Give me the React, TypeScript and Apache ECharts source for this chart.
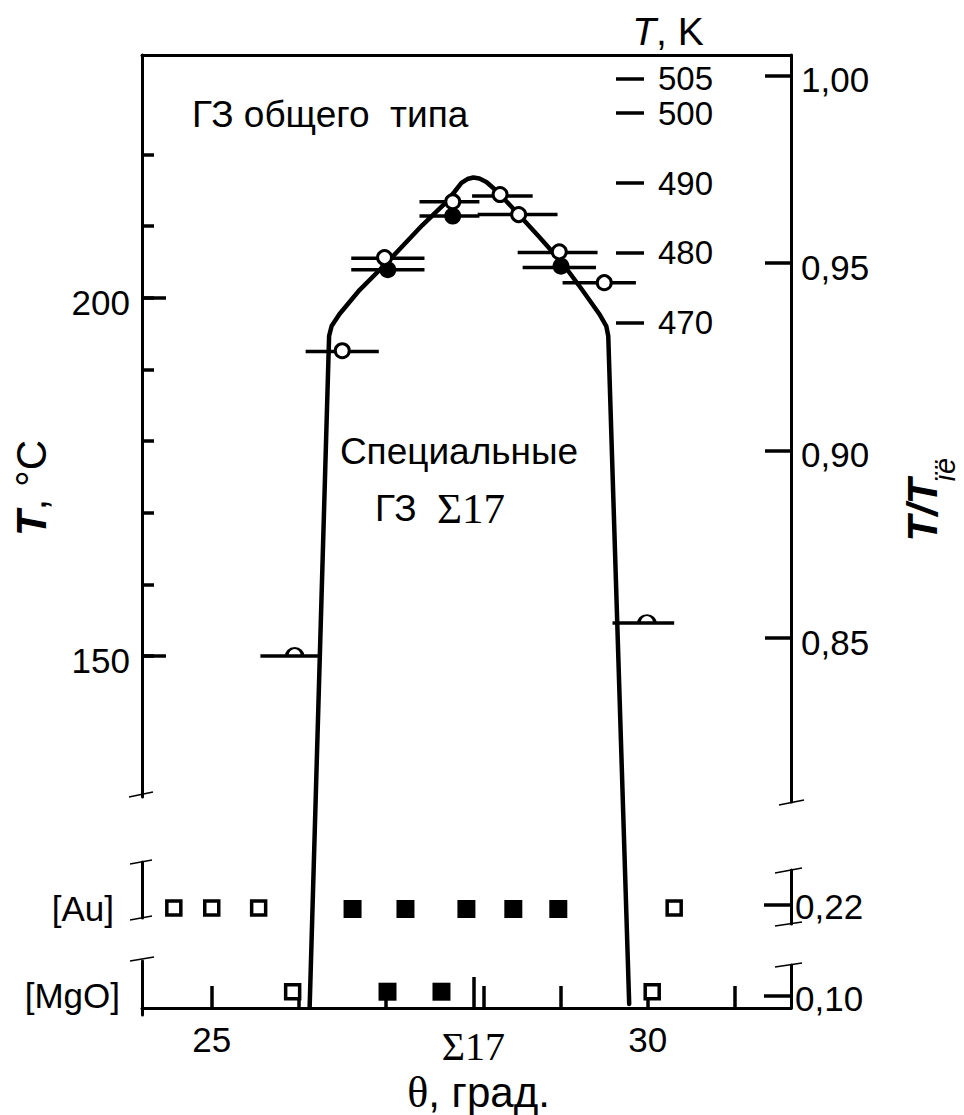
import React, { useEffect, useRef } from "react";
import * as echarts from "echarts";

const SANS = '"Liberation Sans", Arial, Helvetica, sans-serif';
const SERIF = '"Liberation Serif", "Times New Roman", serif';

// ---------- axis extents and tick values ----------
const thetaExtent = [24.2, 31.644];
const thetaTicks = [25, 26, 27, 28.12, 29, 30, 31];
const thetaLabels = [25, 30];
const sigma17Theta = [28];
const celsiusUpperExtent = [130.32, 233.87];
const celsiusFullExtent = [99.9, 233.87];
const celsiusTicks = [150, 160, 170, 180, 190, 200, 210, 220];
const celsiusLabels = [150, 200];
const ratioExtent = [0.80634, 1.00549];
const ratioTicks = [0.85, 0.9, 0.95, 1.0];
const kelvinExtent = [401.36, 508.34];
const kelvinTicks = [470, 480, 490, 500, 505];
const auExtentRight = [0.1848, 0.2848];
const auExtentLeft = [0.1959, 0.2996];
const mgoExtentRight = [0.0714, 0.1714];
const mgoExtentLeft = [0.0714, 0.1794];
const auRatio = [0.22];
const mgoRatio = [0.1];

// ---------- data: [theta, T °C] ----------
const boundaryCurve = [
  [26.123, 101.0], [26.346, 194.66], [26.375, 196.05], [26.466, 197.73],
  [26.695, 201.07], [27.005, 204.84], [27.417, 210.14], [27.669, 213.08],
  [27.783, 214.75], [27.864, 216.01], [27.933, 216.56], [28.001, 216.77],
  [28.07, 216.63], [28.15, 216.15], [28.242, 215.17], [28.333, 214.05],
  [28.494, 211.96], [28.757, 208.47], [29.021, 204.84], [29.25, 201.07],
  [29.445, 197.73], [29.525, 196.05], [29.548, 194.66], [29.788, 101.44],
];
const openPoints = [
  [26.982, 205.6], [27.764, 213.4], [28.307, 214.4], [28.52, 211.6],
  [28.986, 206.4], [29.502, 202.1], [26.497, 192.6],
];
const filledPoints = [
  [27.019, 203.9], [27.764, 211.4], [29.006, 204.4],
];
const halfPoints = [
  [25.951, 150.0], [29.991, 154.6],
];
// [theta low, theta high, T °C]
const errorBars = [
  [26.6, 27.44, 205.5], [26.6, 27.44, 203.9], [27.383, 28.07, 213.4],
  [27.383, 28.07, 211.4], [27.986, 28.681, 214.2], [28.05, 28.966, 211.6],
  [28.509, 29.425, 206.3], [28.566, 29.407, 204.2], [29.024, 29.865, 202.1],
  [26.077, 26.916, 192.5], [25.558, 26.218, 150.0], [29.597, 30.304, 154.6],
];
const auOpen = [24.565, 25.0, 25.538, 30.304];
const auFilled = [26.615, 27.222, 27.921, 28.459, 28.975];
const mgoOpen = [25.928, 30.052];
const mgoFilled = [27.016, 27.635];

const comma = (v: number) => v.toFixed(2).replace(".", ",");

const L = 142;
const W = 649;
const lineW = 3;

const hiddenX = (gridIndex: number) => ({
  type: "value", gridIndex, min: thetaExtent[0], max: thetaExtent[1], show: false,
  splitLine: { show: false },
});

// axis label that is shifted vertically by dy pixels (positive = down)
const shiftedLabel = (fmt: (v: number) => string, dy: number, size = 35) => ({
  formatter: (v: number) => `{s|${fmt(v)}}`,
  rich: {
    s: {
      fontFamily: SANS, fontSize: size, color: "#000", lineHeight: 22,
      padding: dy >= 0 ? [2 * dy, 0, 0, 0] : [0, 0, -2 * dy, 0],
    },
  },
});

function buildOption(): any {
  const tickStyle = { color: "#000", width: 3.5 };
  const axLine = { show: true, onZero: false, lineStyle: { color: "#000", width: lineW } };
  const labelFont = { color: "#000", fontFamily: SANS, fontSize: 35 };

  const slash = (x1: number, y1: number, x2: number, y2: number) => ({
    type: "line", shape: { x1, y1, x2, y2 }, style: { stroke: "#000", lineWidth: 1.6 }, z: 10,
  });

  return {
    animation: false,
    backgroundColor: "#fff",
    grid: [
      { left: L, top: 55, width: W, height: 742 },
      { left: L, top: 55, width: W, height: 747 },
      { left: L, top: 55, width: W, height: 960 },
      { left: L, top: 862, width: W, height: 56 },
      { left: L, top: 870, width: W, height: 54 },
      { left: L, top: 961, width: W, height: 54 },
      { left: L, top: 965, width: W, height: 50 },
    ],
    xAxis: [
      {
        type: "value", gridIndex: 0, position: "top", min: thetaExtent[0], max: thetaExtent[1],
        axisLine: axLine, axisTick: { show: false }, axisLabel: { show: false }, splitLine: { show: false },
      },
      hiddenX(1),
      hiddenX(2),
      hiddenX(3),
      hiddenX(4),
      hiddenX(5),
      {
        type: "value", gridIndex: 6, position: "bottom", offset: 0,
        min: thetaExtent[0], max: thetaExtent[1],
        axisLine: axLine,
        axisTick: { show: true, inside: true, length: 22, customValues: thetaTicks, lineStyle: tickStyle },
        axisLabel: { show: true, customValues: thetaLabels, margin: 14, ...labelFont, formatter: (v: number) => String(Math.round(v)) },
        splitLine: { show: false },
        name: "{t|θ}, град.",
        nameLocation: "middle",
        nameGap: 62,
        nameTextStyle: {
          color: "#000", fontFamily: SANS, fontSize: 42, padding: [0, 0, 0, 24],
          rich: { t: { fontFamily: SERIF, fontSize: 44, color: "#000" } },
        },
      },
      {
        type: "value", gridIndex: 6, position: "bottom", offset: 0,
        min: thetaExtent[0], max: thetaExtent[1],
        axisLine: { show: false },
        axisTick: { show: true, inside: true, length: 31, customValues: sigma17Theta, lineStyle: tickStyle },
        axisLabel: {
          show: true, customValues: sigma17Theta, margin: 18, color: "#000",
          fontFamily: SERIF, fontSize: 40, formatter: () => "Σ17",
        },
        splitLine: { show: false },
      },
    ],
    yAxis: [
      {
        type: "value", gridIndex: 0, position: "left", min: celsiusUpperExtent[0], max: celsiusUpperExtent[1],
        axisLine: axLine,
        axisTick: { show: true, inside: true, length: 12, customValues: celsiusTicks, lineStyle: tickStyle },
        axisLabel: { show: true, customValues: celsiusLabels, margin: 12, ...labelFont, ...shiftedLabel((v) => String(v), 5) },
        splitLine: { show: false },
      },
      {
        type: "value", gridIndex: 0, position: "left", offset: 0, min: celsiusUpperExtent[0], max: celsiusUpperExtent[1],
        axisLine: { show: false },
        axisTick: { show: true, inside: true, length: 24, customValues: celsiusLabels, lineStyle: tickStyle },
        axisLabel: { show: false },
        splitLine: { show: false },
      },
      {
        type: "value", gridIndex: 1, position: "right", min: ratioExtent[0], max: ratioExtent[1],
        axisLine: axLine,
        axisTick: { show: true, inside: true, length: 26, customValues: ratioTicks, lineStyle: tickStyle },
        axisLabel: { show: true, customValues: ratioTicks, margin: 10, ...labelFont, ...shiftedLabel(comma, 4) },
        splitLine: { show: false },
      },
      {
        type: "value", gridIndex: 1, position: "right", offset: -147, min: kelvinExtent[0], max: kelvinExtent[1],
        axisLine: { show: false },
        axisTick: { show: true, inside: true, length: 28, customValues: kelvinTicks, lineStyle: tickStyle },
        axisLabel: { show: true, customValues: kelvinTicks, margin: 14, ...labelFont, fontSize: 33 },
        splitLine: { show: false },
      },
      {
        type: "value", gridIndex: 2, min: celsiusFullExtent[0], max: celsiusFullExtent[1], show: false,
        splitLine: { show: false },
      },
      {
        type: "value", gridIndex: 3, position: "left", min: auExtentLeft[0], max: auExtentLeft[1],
        axisLine: axLine, axisTick: { show: false },
        axisLabel: { show: true, customValues: auRatio, margin: 28, ...labelFont, ...shiftedLabel(() => "[Au]", 4) },
        splitLine: { show: false },
      },
      {
        type: "value", gridIndex: 4, position: "right", min: auExtentRight[0], max: auExtentRight[1],
        axisLine: axLine,
        axisTick: { show: true, inside: true, length: 27, customValues: auRatio, lineStyle: tickStyle },
        axisLabel: { show: true, customValues: auRatio, margin: 4, ...labelFont, ...shiftedLabel(comma, 2) },
        splitLine: { show: false },
      },
      {
        type: "value", gridIndex: 5, position: "left", min: mgoExtentLeft[0], max: mgoExtentLeft[1],
        axisLine: axLine, axisTick: { show: false },
        axisLabel: { show: true, customValues: mgoRatio, margin: 22, ...labelFont, ...shiftedLabel(() => "[MgO]", -5) },
        splitLine: { show: false },
      },
      {
        type: "value", gridIndex: 6, position: "right", min: mgoExtentRight[0], max: mgoExtentRight[1],
        axisLine: axLine,
        axisTick: { show: true, inside: true, length: 27, customValues: mgoRatio, lineStyle: tickStyle },
        axisLabel: { show: true, customValues: mgoRatio, margin: 4, ...labelFont, ...shiftedLabel(comma, 3) },
        splitLine: { show: false },
      },
    ],
    series: [
      {
        type: "line", name: "boundary", xAxisIndex: 2, yAxisIndex: 4, data: boundaryCurve,
        symbol: "none", smooth: false, z: 2,
        lineStyle: { color: "#000", width: 4.5, cap: "round", join: "round" },
      },
      {
        type: "custom", name: "errors", xAxisIndex: 2, yAxisIndex: 4, data: errorBars, z: 3,
        encode: { x: [0, 1], y: 2 },
        renderItem: (_p: any, api: any) => {
          const a = api.coord([api.value(0), api.value(2)]);
          const b = api.coord([api.value(1), api.value(2)]);
          return {
            type: "line",
            shape: { x1: a[0], y1: a[1], x2: b[0], y2: b[1] },
            style: { stroke: "#000", lineWidth: 3.5 },
          };
        },
      },
      {
        type: "scatter", name: "filled", xAxisIndex: 2, yAxisIndex: 4, data: filledPoints, z: 4,
        symbol: "circle", symbolSize: 17, itemStyle: { color: "#000", opacity: 1 },
      },
      {
        type: "scatter", name: "open", xAxisIndex: 2, yAxisIndex: 4, data: openPoints, z: 5,
        symbol: "circle", symbolSize: 14, itemStyle: { color: "#fff", borderColor: "#000", borderWidth: 3, opacity: 1 },
      },
      {
        type: "scatter", name: "half", xAxisIndex: 2, yAxisIndex: 4, data: halfPoints, z: 5,
        symbol: "path://M0 10 A10 10 0 0 1 20 10", symbolSize: [16, 8], symbolOffset: [0, -4],
        itemStyle: { color: "rgba(0,0,0,0)", borderColor: "#000", borderWidth: 2.5, opacity: 1 },
      },
      {
        type: "scatter", name: "auOpen", xAxisIndex: 4, yAxisIndex: 6, z: 4,
        data: auOpen.map((t) => [t, auRatio[0]]),
        symbol: "rect", symbolSize: 14, symbolOffset: [0, 3],
        itemStyle: { color: "#fff", borderColor: "#000", borderWidth: 3.5, opacity: 1 },
      },
      {
        type: "scatter", name: "auFilled", xAxisIndex: 4, yAxisIndex: 6, z: 4,
        data: auFilled.map((t) => [t, auRatio[0]]),
        symbol: "rect", symbolSize: 18, symbolOffset: [0, 4], itemStyle: { color: "#000", opacity: 1 },
      },
      {
        type: "scatter", name: "mgoOpen", xAxisIndex: 6, yAxisIndex: 8, z: 4,
        data: mgoOpen.map((t) => [t, mgoRatio[0]]),
        symbol: "rect", symbolSize: 14, symbolOffset: [0, -4],
        itemStyle: { color: "#fff", borderColor: "#000", borderWidth: 3.5, opacity: 1 },
      },
      {
        type: "scatter", name: "mgoFilled", xAxisIndex: 6, yAxisIndex: 8, z: 4,
        data: mgoFilled.map((t) => [t, mgoRatio[0]]),
        symbol: "rect", symbolSize: 18, symbolOffset: [0, -4], itemStyle: { color: "#000", opacity: 1 },
      },
    ],
    graphic: [
      slash(129, 797, 153, 792),
      slash(130, 864, 152, 860),
      slash(130, 920, 152, 916),
      slash(130, 961, 154, 957),
      slash(779, 805, 804, 800),
      slash(775, 873, 802, 868),
      slash(775, 926, 802, 922),
      slash(775, 967, 802, 963),
      {
        type: "text", x: 192, y: 114,
        style: { text: "ГЗ общего  типа", fontFamily: SANS, fontSize: 37, fill: "#000", align: "left", verticalAlign: "middle" },
      },
      {
        type: "text", x: 459, y: 451,
        style: { text: "Специальные", fontFamily: SANS, fontSize: 37, fill: "#000", align: "center", verticalAlign: "middle" },
      },
      {
        type: "text", x: 440, y: 508,
        style: {
          text: "{a|ГЗ}  {b|Σ17}", fill: "#000", align: "center", verticalAlign: "middle",
          fontFamily: SANS, fontSize: 37,
          rich: {
            a: { fontFamily: SANS, fontSize: 37, fill: "#000" },
            b: { fontFamily: SERIF, fontSize: 43, fill: "#000" },
          },
        },
      },
      {
        type: "text", x: 668, y: 31,
        style: {
          text: "{i|T}, K", fill: "#000", align: "center", verticalAlign: "middle", fontFamily: SANS, fontSize: 39,
          rich: { i: { fontFamily: SANS, fontStyle: "italic", fontSize: 39, fill: "#000" } },
        },
      },
      {
        type: "text", x: 31, y: 488, rotation: Math.PI / 2,
        style: {
          text: "{i|T}, °C", fill: "#000", align: "center", verticalAlign: "middle", fontFamily: SANS, fontSize: 42,
          rich: { i: { fontFamily: SANS, fontStyle: "italic", fontWeight: "bold", fontSize: 42, fill: "#000" } },
        },
      },
      {
        type: "text", x: 922, y: 510, rotation: Math.PI / 2,
        style: { text: "T/T", fontFamily: SANS, fontStyle: "italic", fontWeight: "bold", fontSize: 42, fill: "#000", align: "center", verticalAlign: "middle" },
      },
      {
        type: "text", x: 945, y: 470, rotation: Math.PI / 2,
        style: { text: "ïë", fontFamily: SANS, fontStyle: "italic", fontSize: 29, fill: "#000", align: "center", verticalAlign: "middle" },
      },
    ],
  };
}

export default function App() {
  const ref = useRef<HTMLDivElement>(null);
  useEffect(() => {
    if (!ref.current) return;
    const chart = echarts.init(ref.current, undefined, { renderer: "svg" });
    chart.setOption(buildOption());
    return () => chart.dispose();
  }, []);
  return (
    <div
      ref={ref}
      style={{ position: "absolute", left: 0, top: 0, width: 964, height: 1115, background: "#fff" }}
    />
  );
}
